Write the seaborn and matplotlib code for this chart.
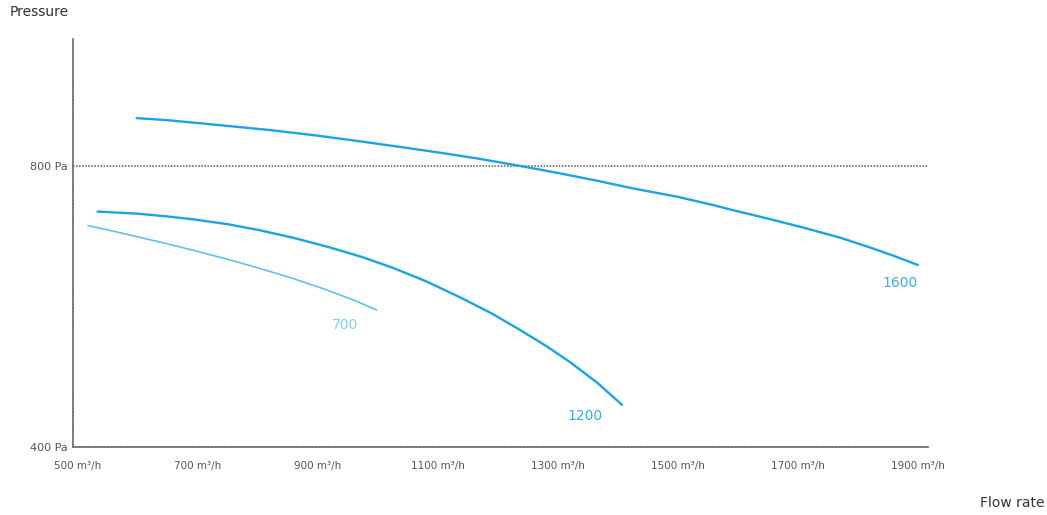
import numpy as np
import pandas as pd
import seaborn as sns
import matplotlib.pyplot as plt

# fan curves (flow in m3/h, pressure in Pa)
flow_1600 = [598, 650, 700, 760, 820, 900, 970, 1037, 1110, 1170, 1237, 1300,
             1365, 1425, 1500, 1560, 1592, 1650, 1710, 1770, 1820, 1860, 1900]
pres_1600 = [868, 865, 861, 856, 851, 843, 835, 827, 818, 810, 800, 790,
             779, 768, 756, 744, 737, 725, 712, 698, 684, 672, 659]

flow_1200 = [533, 600, 650, 692, 750, 800, 858, 920, 975, 1025, 1080, 1137,
             1190, 1240, 1282, 1320, 1365, 1407]
pres_1200 = [735, 732, 728, 724, 717, 709, 698, 684, 670, 655, 636, 613,
             590, 565, 543, 521, 492, 460]

flow_700 = [517, 560, 610, 650, 692, 750, 800, 858, 910, 960, 998]
pres_700 = [715, 707, 697, 689, 680, 667, 655, 640, 625, 609, 595]

curve_labels = ["1600", "1200", "700"]
label_pos = [(1870, 633), (1345, 444), (945, 574)]

x_ticks = [500, 700, 900, 1100, 1300, 1500, 1700, 1900]
y_ticks = [400, 800]

sns.set_theme(style="white")
plt.rcParams["font.family"] = ["DejaVu Sans"]

fig = plt.figure(figsize=(10.47, 5.15), dpi=100)
ax = fig.add_axes([73 / 1047, 68 / 515, 855 / 1047, 409 / 515])

strong = "#1ba4e0"
light = "#5ec2ee"
series = [
    (flow_1600, pres_1600, strong, 1.7),
    (flow_1200, pres_1200, strong, 1.7),
    (flow_700, pres_700, light, 1.2),
]
for (fx, py, col, lw) in series:
    sns.lineplot(x=fx, y=py, ax=ax, color=col, linewidth=lw, legend=False)

label_cols = ["#3aaee6", "#3aaee6", "#84ccf0"]
for txt, (lx, ly), col in zip(curve_labels, label_pos, label_cols):
    ax.text(lx, ly, txt, color=col, fontsize=10, ha="center", va="center")

ax.axhline(800, color="#555555", linestyle=(0, (1, 1)), linewidth=1.1, zorder=0)

ax.set_xlim(492, 1917)
ax.set_ylim(400, 982)
ax.set_xticks(x_ticks)
ax.set_xticklabels([f"{v} m³/h" for v in x_ticks], fontsize=7.5, color="#555555")
ax.set_yticks(y_ticks)
ax.set_yticklabels([f"{v} Pa" for v in y_ticks], fontsize=8, color="#555555")
ax.tick_params(axis="both", length=0, pad=10)
ax.tick_params(axis="y", pad=4)

for side in ["top", "right"]:
    ax.spines[side].set_visible(False)
for side in ["left", "bottom"]:
    ax.spines[side].set_color("#777777")
    ax.spines[side].set_linewidth(1.3)
    ax.spines[side].set_linestyle((0, (1, 0.8)))

fig.text(10 / 1047, 1 - 12 / 515, "Pressure", fontsize=10, color="#333333", va="center")
fig.text(1045 / 1047, 1 - 503 / 515, "Flow rate", fontsize=10, color="#333333", va="center", ha="right")

fig.savefig("out.png", dpi=100)
